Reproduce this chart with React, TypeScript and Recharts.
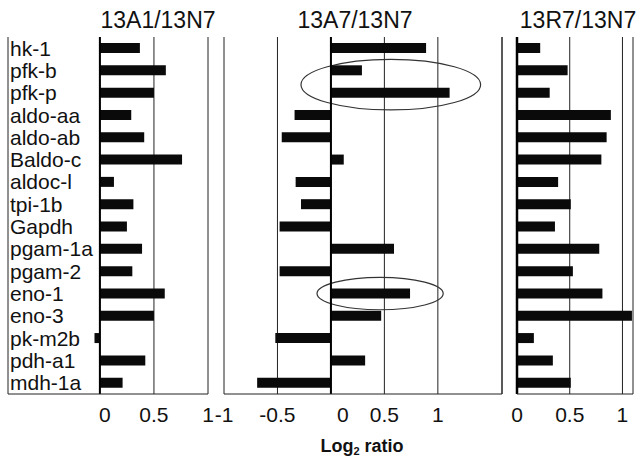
import { BarChart, Bar, XAxis, YAxis, CartesianGrid, ReferenceLine, ReferenceArea } from 'recharts'

// log2 ratios, one value per gene (top to bottom)
const genes = [
    'hk-1', 'pfk-b', 'pfk-p', 'aldo-aa', 'aldo-ab', 'Baldo-c', 'aldoc-l', 'tpi-1b',
    'Gapdh', 'pgam-1a', 'pgam-2', 'eno-1', 'eno-3', 'pk-m2b', 'pdh-a1', 'mdh-1a'
]
const a1Values = [0.37, 0.61, 0.5, 0.29, 0.41, 0.76, 0.13, 0.31, 0.25, 0.39, 0.3, 0.6, 0.5, -0.05, 0.42, 0.21]
const a7Values = [0.89, 0.29, 1.11, -0.34, -0.46, 0.12, -0.33, -0.28, -0.48, 0.59, -0.48, 0.74, 0.47, -0.52, 0.32, -0.69]
const r7Values = [0.22, 0.48, 0.31, 0.89, 0.85, 0.8, 0.39, 0.51, 0.36, 0.78, 0.53, 0.81, 1.09, 0.16, 0.34, 0.51]

const a1Ticks = [0, 0.5, 1]
const a7Ticks = [-1, -0.5, 0, 0.5, 1]
const r7Ticks = [0, 0.5, 1]

const FONT = '"Liberation Sans", Arial, sans-serif'
const TEXT = '#111'
const LINE = '#222'
const BAR = '#0a0a0a'
const PAD = 16
const CHART_H = 434
const PLOT_TOP = 37

const toRows = (values: number[]) => genes.map((gene, i) => ({ gene, value: values[i] }))

// tick labels; the zero label is nudged like in the original figure
const makeTick = (zeroShift: number) => (props: any) => {
    const { x, y, payload } = props
    return (
        <text
            x={x + (payload.value === 0 ? zeroShift : 0)}
            y={y}
            dy="0.71em"
            textAnchor="middle"
            fontSize={21}
            fontFamily={FONT}
            fill={TEXT}
        >
            {payload.value}
        </text>
    )
}

// ellipse annotation drawn inside the reference area box
const ellipse = (grow: number, drop: number) => (props: any) => {
    const { x, y, width, height } = props
    return (
        <ellipse
            cx={x + width / 2}
            cy={y + height / 2 + drop}
            rx={width / 2}
            ry={height / 2 + grow}
            fill="none"
            stroke="#333"
            strokeWidth={1.2}
        />
    )
}

interface PanelProps {
    values: number[]
    left: number
    width: number
    domain: [number, number]
    ticks: number[]
    labels?: boolean
    zeroShift?: number
    zeroWidth?: number
    rightBorder?: boolean
    children?: React.ReactNode
}

function Panel({ values, left, width, domain, ticks, labels = false, zeroShift = 0, zeroWidth = 2, rightBorder = false, children }: PanelProps) {
    return (
        <div style={{ position: 'absolute', left: left - PAD, top: 0 }}>
            <BarChart
                width={width + PAD * 2}
                height={CHART_H}
                data={toRows(values)}
                layout="vertical"
                margin={{ top: PLOT_TOP, right: PAD, bottom: 0, left: PAD }}
            >
                <CartesianGrid horizontal={false} stroke={LINE} strokeWidth={1} />
                <XAxis
                    type="number"
                    domain={domain}
                    ticks={ticks}
                    interval={0}
                    allowDataOverflow
                    height={40}
                    tickLine={false}
                    tickMargin={7}
                    axisLine={{ stroke: LINE }}
                    tick={makeTick(zeroShift)}
                />
                <XAxis
                    xAxisId="top"
                    orientation="top"
                    type="number"
                    domain={domain}
                    allowDataOverflow
                    height={0}
                    tick={false}
                    tickLine={false}
                    axisLine={{ stroke: LINE }}
                />
                {labels ? (
                    <YAxis
                        type="category"
                        dataKey="gene"
                        mirror
                        interval={0}
                        axisLine={false}
                        tickLine={false}
                        tickSize={0}
                        tickMargin={2}
                        tick={{ fontSize: 21, fill: TEXT, fontFamily: FONT }}
                    />
                ) : (
                    <YAxis type="category" dataKey="gene" hide />
                )}
                <Bar dataKey="value" fill={BAR} barSize={10} isAnimationActive={false} />
                <ReferenceLine x={0} stroke="#000" strokeWidth={zeroWidth} />
                {rightBorder && <ReferenceLine x={domain[1]} stroke={LINE} strokeWidth={1} />}
                {children}
            </BarChart>
        </div>
    )
}

export default function App() {
    return (
        <div style={{ position: 'absolute', left: 0, top: 0, width: 640, height: 459, background: '#fff', overflow: 'hidden' }}>
            <Panel values={a1Values} left={8} width={200} domain={[-0.85, 1]} ticks={a1Ticks} labels zeroShift={5} />
            <Panel values={a7Values} left={224} width={278} domain={[-1, 1.6]} ticks={a7Ticks} zeroShift={12} rightBorder>
                <ReferenceArea x1={-0.28} x2={1.4} y1="pfk-b" y2="pfk-p" shape={ellipse(3, 3)} />
                <ReferenceArea x1={-0.13} x2={1.05} y1="eno-1" y2="eno-1" shape={ellipse(5, 0)} />
            </Panel>
            <Panel values={r7Values} left={517} width={116} domain={[0, 1.1]} ticks={r7Ticks} zeroWidth={2.5} />
            <svg width={640} height={459} style={{ position: 'absolute', left: 0, top: 0, pointerEvents: 'none' }}>
                <g fontFamily={FONT} fill={TEXT} fontSize={23} textAnchor="middle">
                    <text x={158} y={28}>13A1/13N7</text>
                    <text x={355} y={28}>13A7/13N7</text>
                    <text x={578} y={28}>13R7/13N7</text>
                </g>
                <text x={362} y={452} fontFamily={FONT} fill={TEXT} fontSize={18} fontWeight="bold" textAnchor="middle">
                    Log<tspan fontSize={11} dy={3}>2</tspan><tspan dy={-3}> ratio</tspan>
                </text>
            </svg>
        </div>
    )
}
